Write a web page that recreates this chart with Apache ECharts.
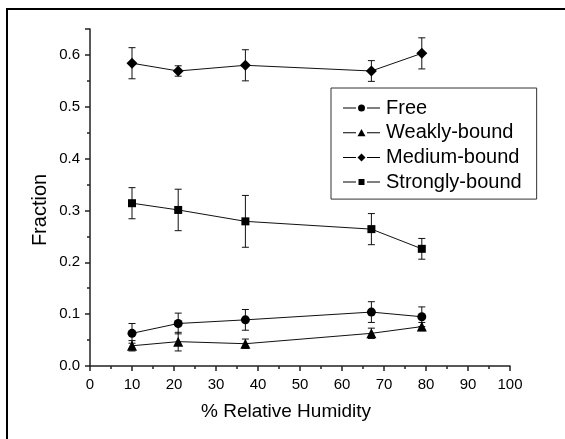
<!DOCTYPE html>
<html>
<head>
<meta charset="utf-8">
<style>html,body{margin:0;padding:0;background:#fff;}#c{width:565px;height:439px;}</style>
<script src="https://cdn.jsdelivr.net/npm/echarts@6/dist/echarts.min.js"></script>
</head>
<body>
<div id="c"></div>
<script>
const humidity = [10, 21, 37, 67, 79];
const freeVals = [0.063, 0.082, 0.089, 0.104, 0.095];
const freeErr = [0.019, 0.020, 0.020, 0.020, 0.019];
const weakVals = [0.039, 0.047, 0.043, 0.063, 0.076];
const weakErr = [0.010, 0.018, 0.009, 0.010, 0.008];
const mediumVals = [0.584, 0.569, 0.580, 0.569, 0.603];
const mediumErr = [0.030, 0.010, 0.030, 0.020, 0.030];
const strongVals = [0.314, 0.301, 0.279, 0.264, 0.226];
const strongErr = [0.030, 0.040, 0.050, 0.030, 0.020];
const seriesNames = ['Free', 'Weakly-bound', 'Medium-bound', 'Strongly-bound'];
const xTitle = '% Relative Humidity';
const yTitle = 'Fraction';

const FONT = 'Liberation Sans, Arial, sans-serif';
const chart = echarts.init(document.getElementById('c'), null, {renderer: 'canvas'});

const pairs = (vals) => humidity.map((x, i) => [x, vals[i]]);
const errData = (vals, errs) => humidity.map((x, i) => [x, vals[i] - errs[i], vals[i] + errs[i]]);

function errRender(params, api) {
  const x = api.value(0), lo = api.value(1), hi = api.value(2);
  const pHi = api.coord([x, hi]);
  const pLo = api.coord([x, lo]);
  const w = 3.5;
  const st = {stroke: '#111', lineWidth: 1};
  return {
    type: 'group',
    children: [
      {type: 'line', shape: {x1: pHi[0], y1: pHi[1], x2: pLo[0], y2: pLo[1]}, style: st},
      {type: 'line', shape: {x1: pHi[0] - w, y1: pHi[1], x2: pHi[0] + w, y2: pHi[1]}, style: st},
      {type: 'line', shape: {x1: pLo[0] - w, y1: pLo[1], x2: pLo[0] + w, y2: pLo[1]}, style: st}
    ]
  };
}

const sliverTop = 'M0,0h0.01v0.01h-0.01z M0,8.99h0.01v0.01h-0.01z ';
const lines = 'M0,4h13v1h-13z M24,4h13v1h-13z ';
const icons = [
  'path://' + sliverTop + lines + 'M15,4.5a3.5,3.5 0 1,0 7,0a3.5,3.5 0 1,0 -7,0z',
  'path://' + sliverTop + lines + 'M14.5,8 L18.5,0.8 L22.5,8z',
  'path://' + sliverTop + lines + 'M18.5,0.5 L22.5,4.5 L18.5,8.5 L14.5,4.5z',
  'path://' + sliverTop + lines + 'M15.5,1.5h6v6h-6z'
];
const symbols = ['circle', 'triangle', 'diamond', 'rect'];
const sizes = [9, 10, 11, 8];
const valsList = [freeVals, weakVals, mediumVals, strongVals];
const errList = [freeErr, weakErr, mediumErr, strongErr];

const series = [];
valsList.forEach((vals, k) => {
  series.push({
    name: seriesNames[k] + ' error',
    type: 'custom',
    renderItem: errRender,
    data: errData(vals, errList[k]),
    encode: {x: 0, y: [1, 2]},
    z: 1,
    silent: true
  });
});
valsList.forEach((vals, k) => {
  series.push({
    name: seriesNames[k],
    type: 'line',
    data: pairs(vals),
    symbol: symbols[k],
    symbolSize: sizes[k],
    showAllSymbol: true,
    lineStyle: {color: '#111', width: 1},
    itemStyle: {color: '#000'},
    z: 3,
    animation: false
  });
});

chart.setOption({
  animation: false,
  backgroundColor: '#fff',
  grid: {left: 90, right: 55, top: 29, bottom: 73},
  xAxis: {
    type: 'value', min: 0, max: 100, interval: 10,
    axisLine: {show: true, onZero: false, lineStyle: {color: '#222', width: 1.5}},
    axisTick: {show: true, length: 5, lineStyle: {color: '#222', width: 1.5}},
    minorTick: {show: true, splitNumber: 2, length: 3, lineStyle: {color: '#222', width: 1.5}},
    axisLabel: {color: '#000', fontSize: 15, fontFamily: FONT, margin: 11},
    splitLine: {show: false}
  },
  yAxis: {
    type: 'value', min: 0, max: 0.65, interval: 0.1,
    axisLine: {show: true, onZero: false, lineStyle: {color: '#222', width: 1.5}},
    axisTick: {show: true, length: 5, lineStyle: {color: '#222', width: 1.5}},
    minorTick: {show: true, splitNumber: 2, length: 3, lineStyle: {color: '#222', width: 1.5}},
    axisLabel: {color: '#000', fontSize: 15, fontFamily: FONT, margin: 10,
      formatter: (v) => (v > 0.61 ? '' : v.toFixed(1))},
    splitLine: {show: false}
  },
  legend: {
    orient: 'vertical',
    left: 331, top: 88,
    padding: [10, 15, 7, 12],
    itemGap: 4.7,
    itemWidth: 37, itemHeight: 9,
    borderColor: '#333', borderWidth: 1,
    backgroundColor: '#fff',
    textStyle: {color: '#000', fontSize: 20, fontFamily: FONT, lineHeight: 20, padding: [0, 0, 0, 1]},
    data: seriesNames.map((n, k) => ({name: n, icon: icons[k], itemStyle: {color: '#000'}})),
    selectedMode: false
  },
  graphic: [
    {type: 'rect', shape: {x: 7, y: 9, width: 700, height: 600}, style: {fill: 'none', stroke: '#000', lineWidth: 2}, z: 100},
    {type: 'text', x: 40, y: 210, rotation: Math.PI / 2,
      style: {text: yTitle, fontSize: 20, fontFamily: FONT, fill: '#000', align: 'center', verticalAlign: 'middle'}},
    {type: 'text', x: 286, y: 412,
      style: {text: xTitle, fontSize: 19, fontFamily: FONT, fill: '#000', align: 'center', verticalAlign: 'middle'}}
  ],
  series: series
});
</script>
</body>
</html>
